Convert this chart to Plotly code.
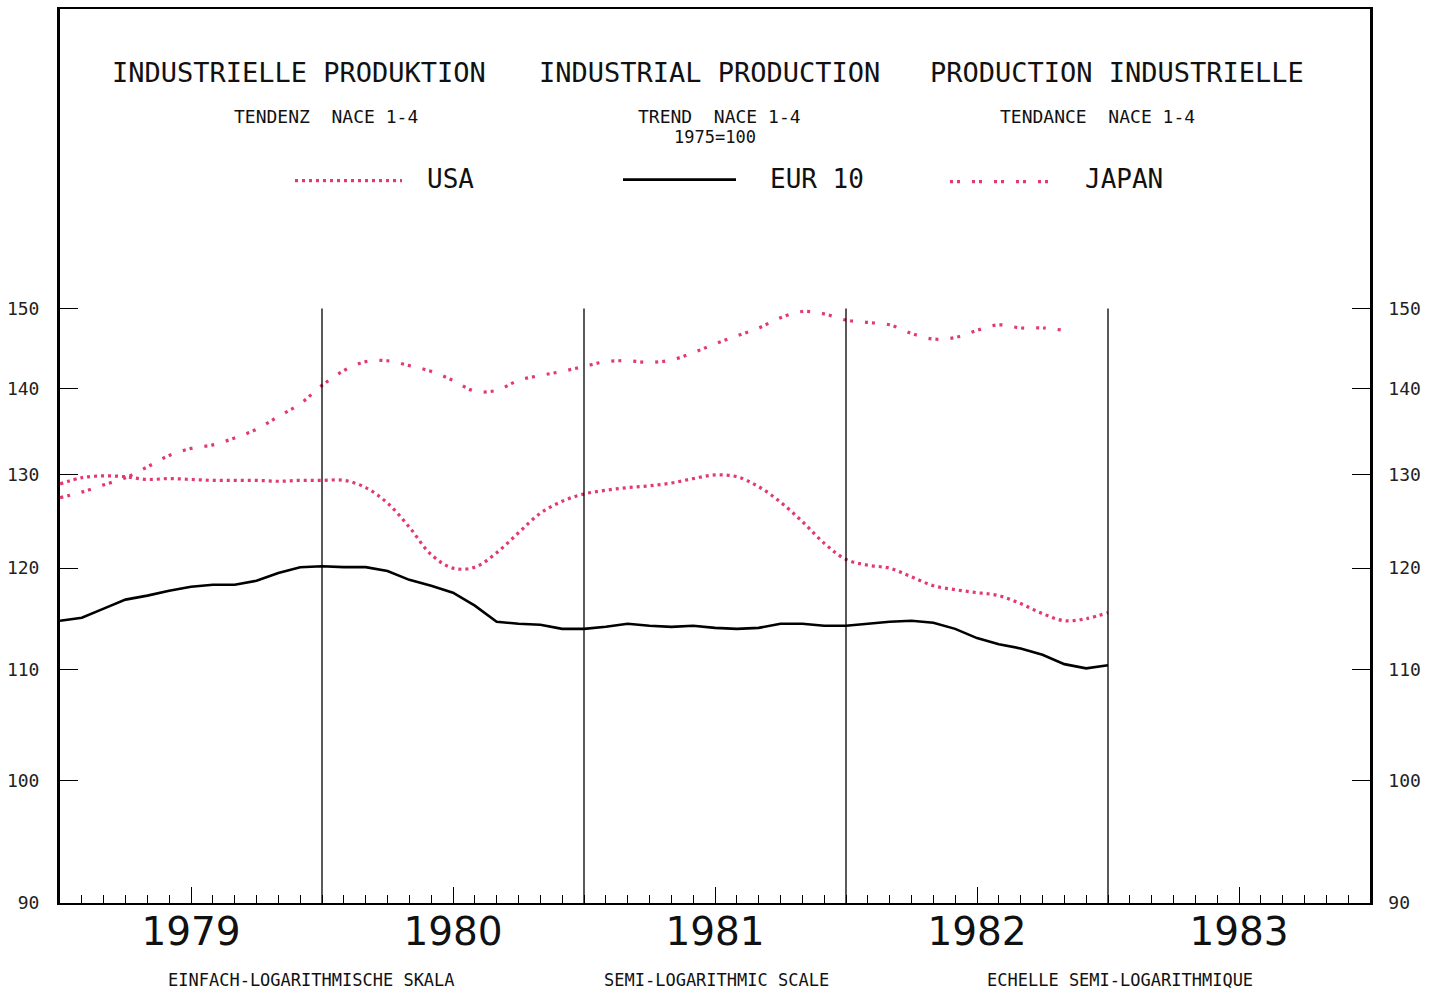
import plotly.graph_objects as go
import math

# ---------------- data ----------------
years = [1979, 1980, 1981, 1982, 1983]
y_ticks = [90, 100, 110, 120, 130, 140, 150]
y_top = 194

# monthly values, January 1979 onwards
eur10 = [114.7, 115.0, 115.9, 116.8, 117.2, 117.7, 118.1, 118.3, 118.3, 118.7, 119.5, 120.1,
         120.2, 120.1, 120.1, 119.7, 118.8, 118.2, 117.5, 116.2, 114.6, 114.4, 114.3, 113.9,
         113.9, 114.1, 114.4, 114.2, 114.1, 114.2, 114.0, 113.9, 114.0, 114.4, 114.4, 114.2,
         114.2, 114.4, 114.6, 114.7, 114.5, 113.9, 113.0, 112.4, 112.0, 111.4, 110.5, 110.1,
         110.4]
usa = [129.0, 129.7, 129.9, 129.8, 129.5, 129.6, 129.5, 129.4, 129.4, 129.4, 129.3, 129.4,
       129.4, 129.4, 128.6, 126.9, 124.3, 121.4, 120.0, 120.1, 121.6, 123.7, 125.8, 127.1,
       127.9, 128.3, 128.6, 128.8, 129.1, 129.6, 130.0, 129.8, 128.7, 127.0, 124.9, 122.6,
       120.9, 120.3, 120.0, 119.1, 118.2, 117.8, 117.5, 117.2, 116.4, 115.4, 114.7, 114.9,
       115.5]
japan = [127.5, 128.1, 128.9, 129.7, 130.9, 132.2, 133.0, 133.4, 134.2, 135.2, 136.7, 138.2,
         140.4, 142.2, 143.3, 143.4, 142.8, 142.1, 141.0, 139.7, 139.8, 141.0, 141.6, 142.1,
         142.7, 143.3, 143.4, 143.2, 143.5, 144.4, 145.5, 146.5, 147.5, 148.8, 149.6, 149.3,
         148.5, 148.2, 147.9, 146.8, 146.1, 146.3, 147.2, 147.9, 147.5, 147.5, 147.2]

titles = ["INDUSTRIELLE PRODUKTION", "INDUSTRIAL PRODUCTION", "PRODUCTION INDUSTRIELLE"]
subtitles = ["TENDENZ  NACE 1-4", "TREND  NACE 1-4", "TENDANCE  NACE 1-4"]
base_note = "1975=100"
series_names = ["USA", "EUR 10", "JAPAN"]
scale_notes = ["EINFACH-LOGARITHMISCHE SKALA", "SEMI-LOGARITHMIC SCALE", "ECHELLE SEMI-LOGARITHMIQUE"]

# ---------------- helpers ----------------
def month_x(n):
    return [years[0] + i / 12 for i in range(n)]

PINK = "#e23a70"
FONT = "DejaVu Sans Mono"

L, R, T, B = 60, 70, 7, 90
W, H = 1440, 993
PW, PH = W - L - R, H - T - B


def px(xp):
    return (xp - L) / PW


def py(yp):
    return (H - B - yp) / PH


fig = go.Figure()

fig.add_trace(go.Scatter(x=month_x(len(usa)), y=usa, mode="lines", name="USA",
                         line=dict(color=PINK, width=3.2, dash="3px,4px", shape="spline"),
                         showlegend=False))
fig.add_trace(go.Scatter(x=month_x(len(eur10)), y=eur10, mode="lines", name="EUR 10",
                         line=dict(color="black", width=2.6), showlegend=False))
fig.add_trace(go.Scatter(x=month_x(len(japan)), y=japan, mode="lines", name="JAPAN",
                         line=dict(color=PINK, width=3.2, dash="3px,4px,3px,12px", shape="spline"),
                         showlegend=False, yaxis="y2"))

# year boundary lines (up to top tick)
shapes = []
for yr in years[1:]:
    shapes.append(dict(type="line", xref="x", yref="y", x0=yr, x1=yr, y0=y_ticks[0], y1=y_ticks[-1],
                       line=dict(color="black", width=1.3)))

# legend samples
shapes.append(dict(type="line", xref="paper", yref="paper", x0=px(295), x1=px(402), y0=py(179), y1=py(179),
                   line=dict(color=PINK, width=3.2, dash="3px,4px")))
shapes.append(dict(type="line", xref="paper", yref="paper", x0=px(623), x1=px(736), y0=py(178), y1=py(178),
                   line=dict(color="black", width=2.6)))
shapes.append(dict(type="line", xref="paper", yref="paper", x0=px(950), x1=px(1050), y0=py(180), y1=py(180),
                   line=dict(color=PINK, width=3.2, dash="3px,4px,3px,12px")))

ann = []
for t, xc in zip(titles, [299, 709, 1117]):
    ann.append(dict(text=t, x=px(xc), y=py(71), xref="paper", yref="paper", showarrow=False,
                    xanchor="center", yanchor="middle", font=dict(family=FONT, size=27, color="#111")))
for t, xc in zip(subtitles, [326, 720, 1097]):
    ann.append(dict(text=t, x=px(xc), y=py(115), xref="paper", yref="paper", showarrow=False,
                    xanchor="center", yanchor="middle", font=dict(family=FONT, size=18, color="#111")))
ann.append(dict(text=base_note, x=px(715), y=py(135), xref="paper", yref="paper", showarrow=False,
                xanchor="center", yanchor="middle", font=dict(family=FONT, size=17, color="#111")))
for t, xl in zip(series_names, [425, 768, 1083]):
    ann.append(dict(text=t, x=px(xl), y=py(177), xref="paper", yref="paper", showarrow=False,
                    xanchor="left", yanchor="middle", font=dict(family=FONT, size=26, color="#111")))
for t, xc in zip(scale_notes, [311, 716, 1120]):
    ann.append(dict(text=t, x=px(xc), y=py(980), xref="paper", yref="paper", showarrow=False,
                    xanchor="center", yanchor="middle", font=dict(family=FONT, size=17, color="#111")))

quarters = [years[0] + q / 4 for q in range(4 * (len(years)) + 1)]
qtext = [str(int(q)) if abs(q - int(q) - 0.5) < 1e-9 else "" for q in quarters]
months_all = month_x(12 * len(years) + 1)
yrange = [math.log10(y_ticks[0]), math.log10(y_top)]

fig.update_layout(
    width=W, height=H,
    margin=dict(l=L, r=R, t=T, b=B),
    paper_bgcolor="white", plot_bgcolor="white",
    shapes=shapes, annotations=ann,
    xaxis=dict(range=[years[0], years[-1] + 1], showgrid=False, zeroline=False,
               showline=True, linewidth=2, linecolor="black", mirror=True,
               tickmode="array", tickvals=quarters, ticktext=qtext,
               ticks="inside", ticklen=16, tickwidth=1.3, tickcolor="black",
               tickfont=dict(family="DejaVu Sans", size=39, color="#111"),
               ticklabelstandoff=-7,
               minor=dict(tickmode="array", tickvals=months_all, ticks="inside", ticklen=8,
                          tickwidth=1.2, tickcolor="black", showgrid=False)),
    yaxis=dict(type="log", range=yrange, showgrid=False, zeroline=False,
               showline=True, linewidth=3, linecolor="black",
               tickmode="array", tickvals=y_ticks, ticktext=[str(v) for v in y_ticks],
               ticks="inside", ticklen=18, tickwidth=1.3, tickcolor="black",
               tickfont=dict(family=FONT, size=18, color="#222"), ticklabelstandoff=14),
    yaxis2=dict(type="log", range=yrange, overlaying="y", side="right",
                showgrid=False, zeroline=False, showline=True, linewidth=2.5, linecolor="black",
                tickmode="array", tickvals=y_ticks, ticktext=[str(v) for v in y_ticks],
                ticks="inside", ticklen=18, tickwidth=1.3, tickcolor="black",
                tickfont=dict(family=FONT, size=18, color="#222"), ticklabelstandoff=12),
)

fig.write_html("out.html", config={"displayModeBar": False},
               post_script="document.body.style.margin='0';document.body.style.overflow='hidden';")
